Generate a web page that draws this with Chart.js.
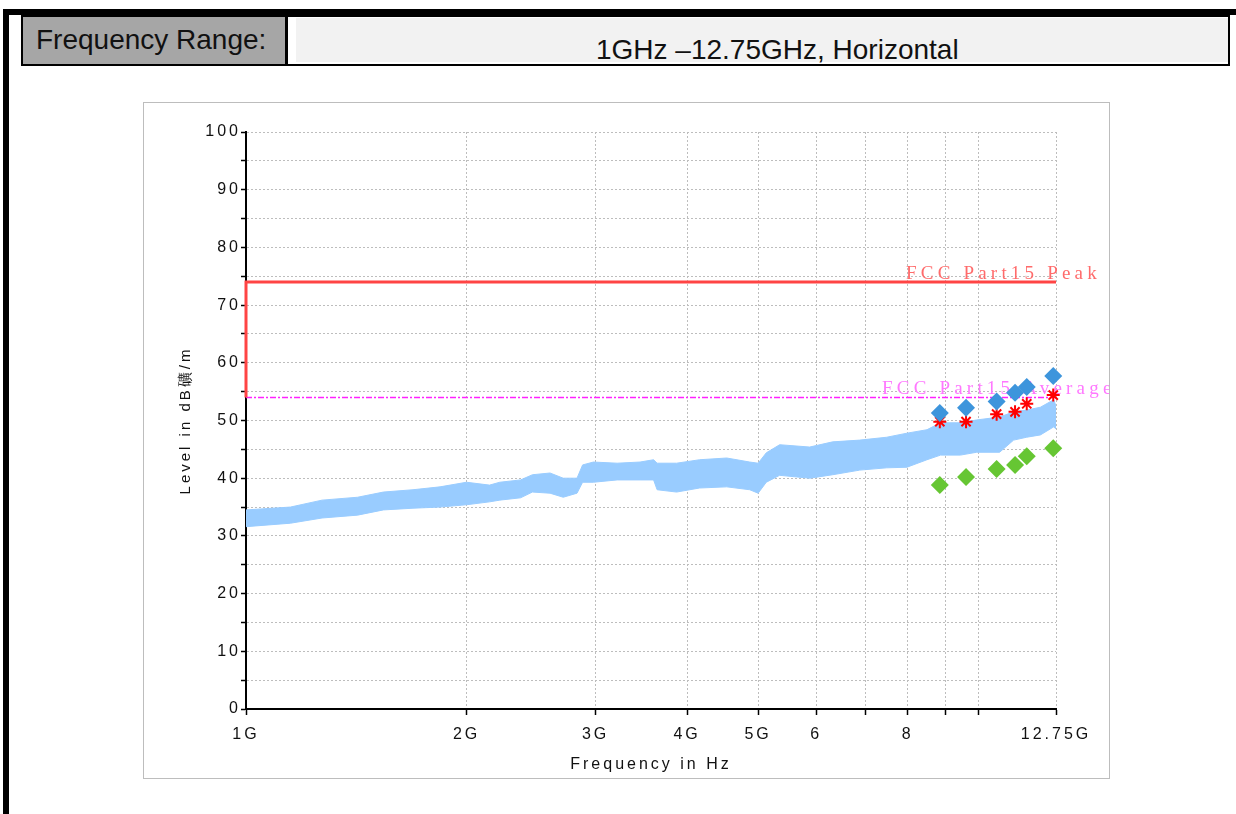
<!DOCTYPE html>
<html>
<head>
<meta charset="utf-8">
<script src="https://cdn.jsdelivr.net/npm/chart.js@4.4.1/dist/chart.umd.min.js"></script>
<style>
  html, body { margin: 0; padding: 0; background: #fff; }
  body { width: 1236px; height: 814px; position: relative; overflow: hidden; font-family: "Liberation Sans", Arial, sans-serif; }
  .abs { position: absolute; }
  #topbar { left: 3px; top: 9px; width: 1233px; height: 6px; background: #000; }
  #leftbar { left: 3px; top: 9px; width: 6px; height: 805px; background: #000; }
  #hdr { left: 21px; top: 15px; width: 1209px; height: 51px; border: 2px solid #000; box-sizing: border-box; background: #fff; }
  #cellL { left: 23px; top: 17px; width: 262px; height: 47px; background: #a6a6a6; }
  #sep { left: 285px; top: 17px; width: 3px; height: 47px; background: #000; }
  #cellR { left: 296px; top: 18px; width: 932px; height: 44px; background: #f2f2f2; }
  .htxt { font-size: 28px; line-height: 28px; color: #111; white-space: nowrap; }
  #txtL { left: 36px; top: 26px; }
  #txtR { left: 596px; top: 36px; }
  #chartBox { left: 143px; top: 102px; width: 967px; height: 677px; border: 1px solid #bdbdbd; box-sizing: border-box; background: #fff; }
  canvas { display: block; }
</style>
</head>
<body>
<div class="abs" id="topbar"></div>
<div class="abs" id="leftbar"></div>
<div class="abs" id="hdr"></div>
<div class="abs" id="cellL"></div>
<div class="abs" id="sep"></div>
<div class="abs" id="cellR"></div>
<div class="abs htxt" id="txtL">Frequency Range:</div>
<div class="abs htxt" id="txtR">1GHz –12.75GHz, Horizontal</div>
<div class="abs" id="chartBox"><canvas id="emiChart" width="965" height="675"></canvas></div>

<script>
// measured trace (GHz) - lower / upper edge of the noisy band, dBuV/m
const traceFreq = [1.00, 1.15, 1.27, 1.42, 1.54, 1.69, 1.84, 2.00, 2.15, 2.22, 2.37, 2.46, 2.60, 2.71, 2.83, 2.88, 2.98,
  3.21, 3.45, 3.60, 3.64, 3.87, 4.16, 4.53, 4.87, 5.00, 5.13, 5.35, 5.88, 6.32, 6.88, 7.49, 7.98, 8.50, 8.87,
  9.44, 9.94, 10.68, 11.16, 11.63, 12.14, 12.66, 12.75];
const traceLow = [31.6, 32.2, 33.1, 33.6, 34.5, 34.8, 35.0, 35.4, 35.9, 36.2, 36.6, 37.6, 37.4, 36.7, 37.4, 39.3, 39.3,
  39.7, 39.7, 39.7, 38.0, 37.6, 38.3, 38.5, 38.0, 37.4, 39.3, 40.5, 40.0, 40.6, 41.4, 41.8, 41.9, 43.2, 44.0,
  44.0, 44.5, 44.5, 46.6, 47.1, 47.5, 48.9, 48.5];
const traceHigh = [34.5, 35.0, 36.2, 36.7, 37.6, 38.0, 38.5, 39.3, 38.8, 39.3, 39.7, 40.6, 40.9, 40.0, 40.0, 42.3, 42.8,
  42.6, 42.8, 43.2, 42.6, 42.6, 43.2, 43.5, 42.8, 42.6, 44.4, 45.8, 45.4, 46.3, 46.6, 47.1, 47.8, 48.4, 49.6,
  49.6, 50.1, 50.6, 51.5, 51.8, 52.3, 53.6, 52.5];

// final measurements
const finalFreq = [8.85, 9.61, 10.58, 11.21, 11.63, 12.64];
const peakFinal = [51.3, 52.2, 53.3, 54.8, 55.8, 57.7];
const starFinal = [49.8, 49.8, 51.1, 51.5, 52.9, 54.4];
const avgFinal = [38.8, 40.2, 41.6, 42.3, 43.8, 45.2];

// limits
const peakLimitFreq = [1, 1, 12.75];
const peakLimitLevel = [54, 74, 74];
const avgLimitFreq = [1, 12.75];
const avgLimitLevel = [54, 54];

const xTickVals = [1, 2, 3, 4, 5, 6, 7, 8, 9, 10, 12.75];
const xTickText = ['1G', '2G', '3G', '4G', '5G', '6', '', '8', '', '', '12.75G'];

const sans = '"Liberation Sans", Arial, sans-serif';
const pts = (xs, ys) => xs.map((x, i) => ({ x: x, y: ys[i] }));

// wide letter spacing like the original plot software
const spacing = {
  id: 'spacing',
  beforeUpdate(chart) { chart.ctx.letterSpacing = '3px'; },
  beforeDraw(chart) { chart.ctx.letterSpacing = '3px'; }
};

// limit line captions
const limitLabels = {
  id: 'limitLabels',
  beforeDatasetsDraw(chart) {
    const { ctx, chartArea, scales } = chart;
    ctx.save();
    ctx.font = '19px "Liberation Serif", serif';
    ctx.letterSpacing = '4.2px';
    ctx.textAlign = 'left';
    ctx.textBaseline = 'alphabetic';
    ctx.fillStyle = '#ff6b6b';
    ctx.fillText('FCC Part15 Peak', chartArea.right - 150, scales.y.getPixelForValue(peakLimitLevel[2]) - 3);
    ctx.fillStyle = '#ff78ff';
    ctx.fillText('FCC Part15 Average', chartArea.right - 174, scales.y.getPixelForValue(avgLimitLevel[0]) - 3);
    ctx.restore();
  }
};

new Chart(document.getElementById('emiChart').getContext('2d'), {
  type: 'line',
  data: {
    datasets: [
      { label: 'Peak', data: pts(finalFreq, peakFinal), showLine: false, pointStyle: 'rectRot', pointRadius: 9,
        backgroundColor: '#3d95dc', borderColor: '#3d95dc', borderWidth: 0, clip: false },
      { label: 'QP', data: pts(finalFreq, starFinal), showLine: false, pointStyle: 'star', pointRadius: 6.5,
        borderColor: '#ff0000', backgroundColor: '#ff0000', borderWidth: 2, clip: false },
      { label: 'Average', data: pts(finalFreq, avgFinal), showLine: false, pointStyle: 'rectRot', pointRadius: 9,
        backgroundColor: '#66c633', borderColor: '#66c633', borderWidth: 0, clip: false },
      { label: 'FCC Part15 Peak', data: pts(peakLimitFreq, peakLimitLevel), borderColor: '#ff4444', borderWidth: 3,
        pointRadius: 0, fill: false, clip: false },
      { label: 'FCC Part15 Average', data: pts(avgLimitFreq, avgLimitLevel), borderColor: '#ff22ff', borderWidth: 1.5,
        borderDash: [6, 2, 2, 2], pointRadius: 0, fill: false },
      { label: 'trace low', data: pts(traceFreq, traceLow), borderColor: '#99ccff', borderWidth: 1, pointRadius: 0, fill: false },
      { label: 'trace high', data: pts(traceFreq, traceHigh), borderColor: '#99ccff', borderWidth: 1, pointRadius: 0,
        fill: '-1', backgroundColor: '#99ccff' }
    ]
  },
  options: {
    responsive: false,
    animation: false,
    layout: { padding: { left: 0, right: 53, top: 29, bottom: 0 } },
    plugins: { legend: { display: false }, tooltip: { enabled: false } },
    scales: {
      x: {
        type: 'logarithmic',
        min: 1,
        max: 12.75,
        afterBuildTicks: s => { s.ticks = xTickVals.map(v => ({ value: v })); },
        afterFit: s => { s.height = 69; },
        ticks: { autoSkip: false, maxRotation: 0, padding: 10, color: '#111', font: { family: sans, size: 16 },
          callback: (v, i) => xTickText[i] },
        grid: { color: '#bdbdbd', tickColor: '#000', tickLength: 6, tickWidth: 1.5 },
        border: { color: '#000', width: 2, dash: [2, 2] },
        title: { display: true, text: 'Frequency in Hz', color: '#111', font: { family: sans, size: 16 },
          padding: { top: 0, bottom: 4 } }
      },
      y: {
        min: 0,
        max: 100,
        afterFit: s => { s.width = 102; },
        ticks: { stepSize: 5, padding: 0, color: '#111', font: { family: sans, size: 16 },
          callback: v => (v % 10 === 0 ? String(v) : '') },
        grid: { color: '#bdbdbd', tickColor: '#000', tickLength: 5, tickWidth: 1.5 },
        border: { color: '#000', width: 2, dash: [2, 2] },
        title: { display: true, text: 'Level in dB礦/m', color: '#111', font: { family: sans, size: 15 },
          padding: { top: 33, bottom: 0 } }
      }
    }
  },
  plugins: [spacing, limitLabels]
});
</script>
</body>
</html>
